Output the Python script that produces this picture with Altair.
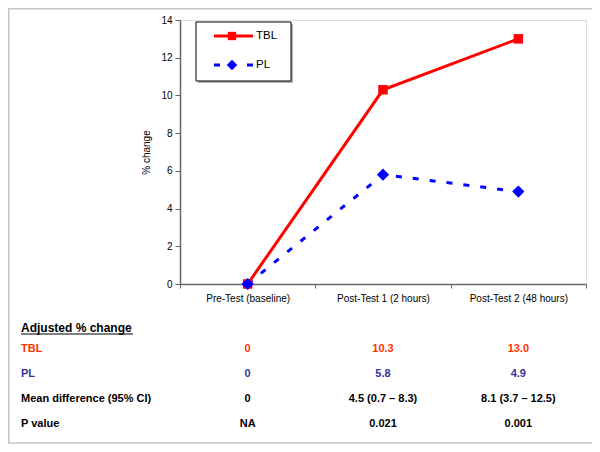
import altair as alt
import pandas as pd

# ---- data ----
categories = ["Pre-Test (baseline)", "Post-Test 1 (2 hours)", "Post-Test 2 (48 hours)"]
series = ["TBL", "PL"]
tbl_values = [0.0, 10.3, 13.0]
pl_values = [0.0, 5.8, 4.9]
y_ticks = [0, 2, 4, 6, 8, 10, 12, 14]

table_title = "Adjusted % change"
row_labels = ["TBL", "PL", "Mean difference (95% CI)", "P value"]
row_colors = ["#FF3300", "#333399", "#000000", "#000000"]
mean_diff = ["0", "4.5 (0.7 \u2013 8.3)", "8.1 (3.7 \u2013 12.5)"]
p_values = ["NA", "0.021", "0.001"]
line_colors = ["#FF0000", "#0000FF"]


def fmt(v):
    return "0" if v == 0 else f"{v:.1f}"


long_rows = []
for s, vals in zip(series, [tbl_values, pl_values]):
    for c, v in zip(categories, vals):
        long_rows.append({"category": c, "series": s, "value": v})
df = pd.DataFrame(long_rows)

table_cells = {
    "TBL": [fmt(v) for v in tbl_values],
    "PL": [fmt(v) for v in pl_values],
    "Mean difference (95% CI)": mean_diff,
    "P value": p_values,
}
trows = []
for r in row_labels:
    for c, t in zip(categories, table_cells[r]):
        trows.append({"row": r, "category": c, "text": t})
tdf = pd.DataFrame(trows)
ldf = pd.DataFrame({"row": row_labels})

# ---- shared encodings ----
axis_gray = "#666666"
x_enc = alt.X(
    "category:N",
    sort=categories,
    bandPosition=0.5,
    scale=alt.Scale(type="band", domain=categories, paddingInner=0, paddingOuter=0),
    axis=alt.Axis(
        title=None, labelAngle=0, tickBand="extent", domainColor=axis_gray,
        tickColor=axis_gray, tickSize=4, labelPadding=5, labelFontSize=10,
        labelColor="black", domainWidth=1.5,
    ),
)
y_enc = alt.Y(
    "value:Q",
    scale=alt.Scale(domain=[0, 14], nice=False),
    axis=alt.Axis(
        values=y_ticks, title="% change", grid=False, tickSize=5,
        domainColor=axis_gray, tickColor=axis_gray, labelFontSize=10,
        labelColor="black", titleFontSize=10, titleFontWeight="normal",
        titleColor="black", titlePadding=9, labelPadding=3, domainWidth=1.5,
    ),
)

base = alt.Chart(df).encode(x=x_enc, y=y_enc)
line_tbl = base.transform_filter(alt.datum.series == "TBL").mark_line(
    color=line_colors[0], strokeWidth=3)
line_pl = base.transform_filter(alt.datum.series == "PL").mark_line(
    color=line_colors[1], strokeWidth=3, strokeDash=[6, 11])
pt_tbl = base.transform_filter(alt.datum.series == "TBL").mark_point(
    shape="square", filled=True, opacity=1, size=90, color=line_colors[0])
pt_pl = base.transform_filter(alt.datum.series == "PL").mark_point(
    shape="diamond", filled=True, opacity=1, size=150, color=line_colors[1])
main = alt.layer(line_tbl, line_pl, pt_tbl, pt_pl)

# ---- legend (drawn manually) ----
one = pd.DataFrame({"k": [0]})
sdf = pd.DataFrame({"series": series})
leg_shadow = alt.Chart(one).mark_rect(fill="#B0B0B0").encode(
    x=alt.value(18), x2=alt.value(113), y=alt.value(4), y2=alt.value(63))
leg_box = alt.Chart(one).mark_rect(fill="white", stroke="black", strokeWidth=1).encode(
    x=alt.value(16), x2=alt.value(111), y=alt.value(2), y2=alt.value(61))
leg_rule_tbl = alt.Chart(one).mark_rule(color=line_colors[0], strokeWidth=3).encode(
    x=alt.value(34), x2=alt.value(73), y=alt.value(16))
leg_pt_tbl = alt.Chart(one).mark_point(shape="square", filled=True, opacity=1, size=70,
                                       color=line_colors[0]).encode(
    x=alt.value(52), y=alt.value(16))
leg_rule_pl = alt.Chart(one).mark_rule(color=line_colors[1], strokeWidth=3,
                                       strokeDash=[6, 27]).encode(
    x=alt.value(34), x2=alt.value(73), y=alt.value(45))
leg_pt_pl = alt.Chart(one).mark_point(shape="diamond", filled=True, opacity=1, size=110,
                                      color=line_colors[1]).encode(
    x=alt.value(52), y=alt.value(45))
leg_txt_tbl = alt.Chart(sdf).transform_filter(alt.datum.series == "TBL").mark_text(
    align="left", baseline="middle", fontSize=11.5, color="black").encode(
    x=alt.value(76), y=alt.value(16), text="series:N")
leg_txt_pl = alt.Chart(sdf).transform_filter(alt.datum.series == "PL").mark_text(
    align="left", baseline="middle", fontSize=11.5, color="black").encode(
    x=alt.value(76), y=alt.value(45), text="series:N")
legend = alt.layer(leg_shadow, leg_box, leg_rule_tbl, leg_pt_tbl, leg_rule_pl,
                   leg_pt_pl, leg_txt_tbl, leg_txt_pl)

# ---- table below the chart ----
row_y = alt.Y("row:N", scale=alt.Scale(type="point", domain=row_labels,
                                        range=[329, 404], padding=0), axis=None)
row_color = alt.Color("row:N", scale=alt.Scale(domain=row_labels, range=row_colors),
                      legend=None)
tab_vals = alt.Chart(tdf).mark_text(fontWeight="bold", fontSize=11, baseline="middle").encode(
    x=x_enc, y=row_y, text="text:N", color=row_color)
tab_labels = alt.Chart(ldf).mark_text(align="left", fontWeight="bold", fontSize=11,
                                      baseline="middle").encode(
    x=alt.value(-159), y=row_y, text="row:N", color=row_color)
tab_head = alt.Chart(pd.DataFrame({"t": [table_title]})).mark_text(
    align="left", fontWeight="bold", fontSize=12, baseline="middle", color="black").encode(
    x=alt.value(-159), y=alt.value(308), text="t:N")
tab_under = alt.Chart(one).mark_rule(color="black", strokeWidth=1.2).encode(
    x=alt.value(-159), x2=alt.value(-47), y=alt.value(314))
table = alt.layer(tab_head, tab_under, tab_labels, tab_vals)

# ---- outer border ----
border = alt.Chart(one).mark_rect(fill=None, stroke="#C4C4C4", strokeWidth=1.5).encode(
    x=alt.value(-171.25), x2=alt.value(414), y=alt.value(-11.25), y2=alt.value(423))

chart = alt.layer(border, main, legend, table).resolve_scale(
    y="independent", color="independent"
).properties(
    width=406, height=264,
    padding={"left": 172, "top": 12, "right": 6, "bottom": 161},
    autosize=alt.AutoSizeParams(type="none"),
).configure_view(stroke=None).configure(font="Liberation Sans")

chart.save("out.html", embed_options={"renderer": "svg", "actions": False})
